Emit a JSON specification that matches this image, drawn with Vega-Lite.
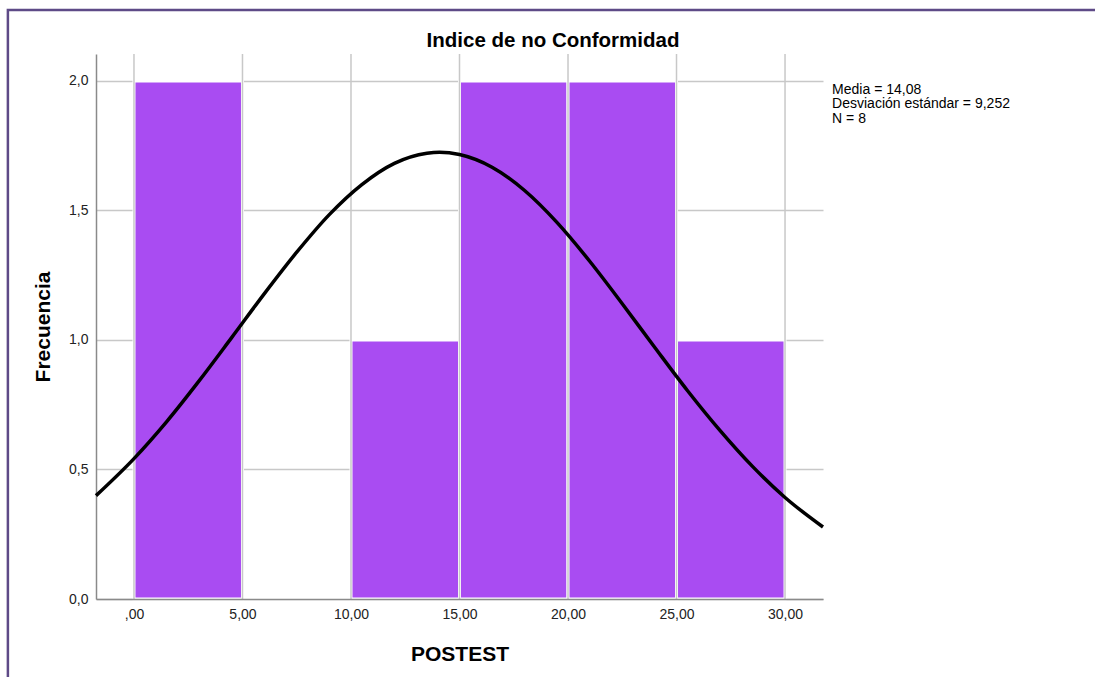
{
  "$schema": "https://vega.github.io/schema/vega-lite/v6.json",
  "width": 727,
  "height": 545,
  "autosize": {"type": "none"},
  "padding": {"left": 96, "top": 54, "right": 272, "bottom": 78},
  "background": "white",
  "config": {
    "view": {"stroke": null},
    "font": "Liberation Sans",
    "axis": {"labelFont": "Liberation Sans", "titleFont": "Liberation Sans"}
  },
  "encoding": {
    "x": {
      "field": "x", "type": "quantitative",
      "scale": {"domain": [-1.75, 31.75], "nice": false, "zero": false},
      "axis": {
        "title": "POSTEST",
        "titleFontSize": 21,
        "titleFontWeight": "bold",
        "titleColor": "#000000",
        "titlePadding": 22,
        "values": [0, 5, 10, 15, 20, 25, 30],
        "labelExpr": "datum.value == 0 ? ',00' : replace(format(datum.value, '.2f'), '.', ',')",
        "labelFontSize": 14,
        "labelColor": "#222222",
        "labelPadding": 8,
        "ticks": false,
        "grid": false,
        "domainColor": "#8a8a8a",
        "domainWidth": 1.5,
        "zindex": 1
      }
    },
    "y": {
      "field": "y", "type": "quantitative",
      "scale": {"domain": [0, 2.104], "nice": false, "zero": false},
      "axis": {
        "title": "Frecuencia",
        "titleFontSize": 21,
        "titleFontWeight": "bold",
        "titleColor": "#000000",
        "titlePadding": 15,
        "values": [0, 0.5, 1, 1.5, 2],
        "labelExpr": "replace(format(datum.value, '.1f'), '.', ',')",
        "labelFontSize": 14,
        "labelColor": "#222222",
        "labelPadding": 8,
        "ticks": false,
        "grid": true,
        "gridColor": "#c8c8c8",
        "gridWidth": 1.5,
        "domainColor": "#8a8a8a",
        "domainWidth": 1.5,
        "zindex": 0
      }
    }
  },
  "layer": [
    {
      "data": {"values": [{"x": -5.81, "x2": 60, "y": 2.274, "y2": -1}]},
      "mark": {"type": "rect", "fill": null, "stroke": "#5e4a87", "strokeWidth": 2.5, "clip": false},
      "encoding": {
        "x2": {"field": "x2"},
        "y2": {"field": "y2"}
      }
    },
    {
      "data": {"values": [
        {"x": 0, "x2": 5, "y": 2},
        {"x": 5, "x2": 10, "y": 0},
        {"x": 10, "x2": 15, "y": 1},
        {"x": 15, "x2": 20, "y": 2},
        {"x": 20, "x2": 25, "y": 2},
        {"x": 25, "x2": 30, "y": 1}
      ]},
      "mark": {"type": "rect", "fill": "#a94cf2", "stroke": "#ffffff", "strokeWidth": 3},
      "encoding": {
        "x2": {"field": "x2"},
        "y2": {"datum": 0}
      }
    },
    {
      "data": {"values": [
        {"x": 0, "y": 0, "y2": 2.104},
        {"x": 5, "y": 0, "y2": 2.104},
        {"x": 10, "y": 0, "y2": 2.104},
        {"x": 15, "y": 0, "y2": 2.104},
        {"x": 20, "y": 0, "y2": 2.104},
        {"x": 25, "y": 0, "y2": 2.104},
        {"x": 30, "y": 0, "y2": 2.104}
      ]},
      "mark": {"type": "rule", "color": "#c8c8c8", "strokeWidth": 1.5},
      "encoding": {
        "y2": {"field": "y2"}
      }
    },
    {
      "data": {"values": [
        {"x": -1.75, "y": 0.399},
        {"x": 0, "y": 0.542},
        {"x": 1.5, "y": 0.684},
        {"x": 3, "y": 0.842},
        {"x": 4.5, "y": 1.009},
        {"x": 6, "y": 1.178},
        {"x": 7.5, "y": 1.339},
        {"x": 9, "y": 1.484},
        {"x": 10.5, "y": 1.600},
        {"x": 12, "y": 1.682},
        {"x": 13.5, "y": 1.721},
        {"x": 14.08, "y": 1.725},
        {"x": 15, "y": 1.716},
        {"x": 16.5, "y": 1.667},
        {"x": 18, "y": 1.577},
        {"x": 19.5, "y": 1.453},
        {"x": 21, "y": 1.304},
        {"x": 22.5, "y": 1.140},
        {"x": 24, "y": 0.971},
        {"x": 25.5, "y": 0.805},
        {"x": 27, "y": 0.651},
        {"x": 28.5, "y": 0.512},
        {"x": 30, "y": 0.392},
        {"x": 31.75, "y": 0.278}
      ]},
      "mark": {"type": "line", "color": "#000000", "strokeWidth": 3.5, "interpolate": "monotone"},
      "encoding": {}
    },
    {
      "data": {"values": [{"x": 32.17, "y": 1.950, "label": ["Media = 14,08", "Desviación estándar = 9,252", "N = 8"]}]},
      "mark": {"type": "text", "align": "left", "baseline": "alphabetic", "fontSize": 14, "lineHeight": 14.5, "font": "Liberation Sans", "color": "#000000", "clip": false},
      "encoding": {
        "text": {"field": "label"}
      }
    },
    {
      "data": {"values": [{"x": 19.31, "y": 2.131, "label": "Indice de no Conformidad"}]},
      "mark": {"type": "text", "align": "center", "baseline": "alphabetic", "fontSize": 20.5, "fontWeight": "bold", "font": "Liberation Sans", "color": "#000000", "clip": false},
      "encoding": {
        "text": {"field": "label"}
      }
    }
  ]
}
